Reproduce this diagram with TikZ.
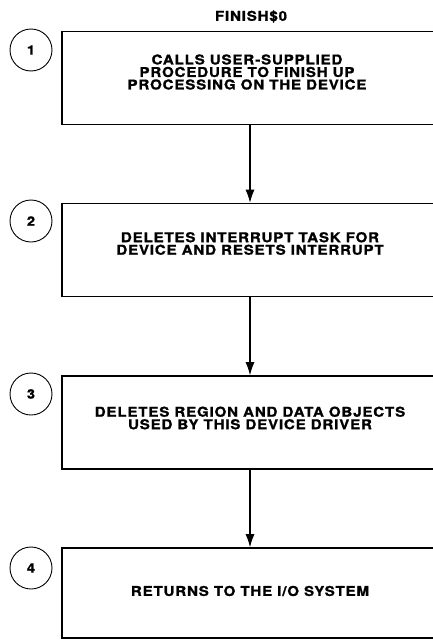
\documentclass[tikz,border=0pt]{standalone}
\usepackage{fontspec}
\setmainfont{TeX Gyre Heros}[FakeStretch=1.12,LetterSpace=6,FakeBold=1.2]
\usetikzlibrary{arrows.meta}

\tikzset{
  procbox/.style={draw,line width=1.6pt,minimum width=376pt,minimum height=93pt,inner sep=0pt},
  numcircle/.style={draw,circle,line width=0.9pt,minimum size=42pt,inner sep=0pt,
    font=\bfseries\fontsize{13}{13}\selectfont},
  boxtext/.style={align=center,font=\bfseries\fontsize{13.5}{12.5}\selectfont},
  flow/.style={-{Latex[length=13pt,width=9pt]},line width=1.1pt}
}

\begin{document}
\begin{tikzpicture}[x=1pt,y=1pt]
  \useasboundingbox (0,0) rectangle (432,-640);
  \node[boxtext] (title) at (251,-16.5) {FINISH\$0};

  % boxes
  \node[procbox] (box1) at (250,-78) {};
  \node[procbox] (box2) at (250,-250) {};
  \node[procbox] (box3) at (250,-422.5) {};
  \node[procbox,minimum height=90pt] (box4) at (250,-593) {};

  \node[boxtext] (text1) at (247,-72) {CALLS USER-SUPPLIED\\PROCEDURE TO FINISH UP\\PROCESSING ON THE DEVICE};
  \node[boxtext] (text2) at (250,-243.5) {DELETES INTERRUPT TASK FOR\\DEVICE AND RESETS INTERRUPT};
  \node[boxtext] (text3) at (250,-418) {DELETES REGION AND DATA OBJECTS\\USED BY THIS DEVICE DRIVER};
  \node[boxtext] (text4) at (250,-591) {RETURNS TO THE I/O SYSTEM};

  % step numbers
  \node[numcircle] (num1) at (31,-50) {1};
  \node[numcircle] (num2) at (31,-221) {2};
  \node[numcircle] (num3) at (31,-394) {3};
  \node[numcircle] (num4) at (31,-568) {4};

  \draw[flow] (box1.south) -- (box2.north);
  \draw[flow] (box2.south) -- (box3.north);
  \draw[flow] (box3.south) -- (box4.north);
\end{tikzpicture}
\end{document}
